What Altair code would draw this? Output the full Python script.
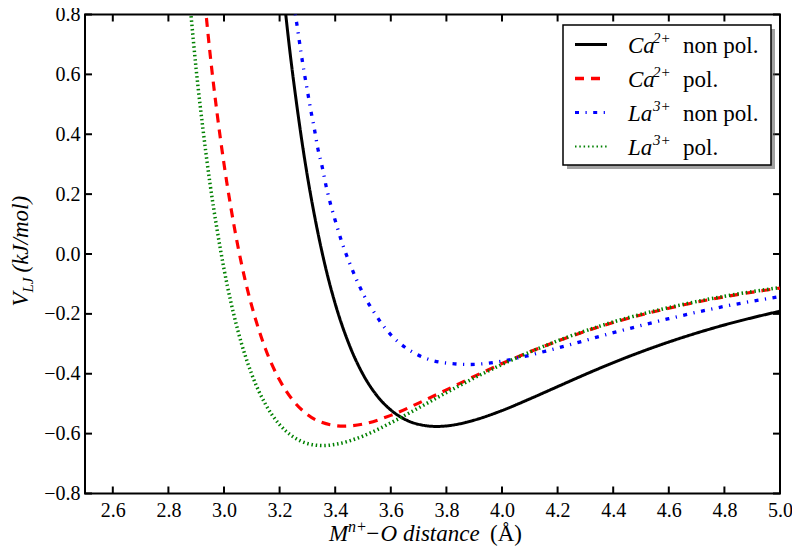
import altair as alt
import pandas as pd

# ---------------- data ----------------
series_names = ["Ca2+ non pol.", "Ca2+ pol.", "La3+ non pol.", "La3+ pol."]
legend_ion = ["Ca", "Ca", "La", "La"]
legend_charge = ["2+", "2+", "3+", "3+"]
legend_kind = ["non pol.", "pol.", "non pol.", "pol."]

ca_np_x = [3.21, 3.22, 3.24, 3.26, 3.28, 3.30, 3.33, 3.36, 3.40, 3.45, 3.50, 3.55, 3.60,
           3.65, 3.70, 3.765, 3.85, 3.90, 4.00, 4.10, 4.20, 4.30, 4.40, 4.60, 4.80, 5.00]
ca_np_y = [0.906, 0.818, 0.654, 0.510, 0.378, 0.260, 0.107, -0.024, -0.166, -0.302, -0.402,
           -0.473, -0.521, -0.552, -0.569, -0.576, -0.567, -0.555, -0.523, -0.484, -0.443,
           -0.402, -0.363, -0.294, -0.237, -0.191]

ca_p_x = [2.92, 2.935, 2.95, 2.975, 3.00, 3.025, 3.05, 3.075, 3.10, 3.15, 3.20, 3.25, 3.30,
          3.35, 3.43, 3.50, 3.60, 3.70, 3.80, 3.90, 4.00, 4.20, 4.40, 4.60, 4.80, 5.00]
ca_p_y = [0.948, 0.805, 0.668, 0.471, 0.301, 0.154, 0.026, -0.083, -0.174, -0.319, -0.421,
          -0.491, -0.536, -0.562, -0.575, -0.568, -0.539, -0.498, -0.454, -0.409, -0.366,
          -0.291, -0.229, -0.181, -0.143, -0.114]

la_np_x = [3.25, 3.262, 3.277, 3.288, 3.300, 3.312, 3.325, 3.337, 3.353, 3.367, 3.384, 3.403,
           3.423, 3.447, 3.474, 3.504, 3.540, 3.579, 3.627, 3.683, 3.747, 3.819, 3.885, 3.95,
           4.00, 4.20, 4.40, 4.60, 4.80, 5.00]
la_np_y = [0.835, 0.768, 0.673, 0.609, 0.545, 0.481, 0.418, 0.355, 0.292, 0.228, 0.164, 0.103,
           0.042, -0.019, -0.080, -0.139, -0.195, -0.247, -0.294, -0.330, -0.355, -0.366,
           -0.369, -0.365, -0.358, -0.314, -0.263, -0.216, -0.175, -0.142]

la_p_x = [2.87, 2.88, 2.90, 2.925, 2.95, 2.975, 3.00, 3.05, 3.10, 3.15, 3.20, 3.25, 3.30,
          3.356, 3.40, 3.50, 3.60, 3.70, 3.80, 3.90, 4.00, 4.20, 4.40, 4.60, 4.80, 5.00]
la_p_y = [0.909, 0.81, 0.616, 0.412, 0.233, 0.082, -0.050, -0.256, -0.402, -0.503, -0.570,
          -0.611, -0.633, -0.640, -0.636, -0.608, -0.564, -0.514, -0.463, -0.414, -0.369,
          -0.290, -0.227, -0.179, -0.141, -0.112]

x_ticks = [2.6, 2.8, 3.0, 3.2, 3.4, 3.6, 3.8, 4.0, 4.2, 4.4, 4.6, 4.8, 5.0]
y_ticks = [-0.8, -0.6, -0.4, -0.2, 0.0, 0.2, 0.4, 0.6, 0.8]

# ---------------- styles ----------------
colors = ["#000000", "#ff0000", "#0000ff", "#008000"]
dashes = [[1, 0], [9, 7], [4, 6.5, 1.2, 6.5], [1.5, 2.8]]
widths = [3, 3.5, 3, 2.2]
FONT = "Liberation Serif"
W, H = 695, 479

rows = []
for name, xs, ys in zip(series_names, [ca_np_x, ca_p_x, la_np_x, la_p_x],
                        [ca_np_y, ca_p_y, la_np_y, la_p_y]):
    for a, b in zip(xs, ys):
        rows.append({"series": name, "x": a, "y": b})
df = pd.DataFrame(rows)

xscale = alt.Scale(domain=[2.5, 5.0], nice=False, zero=False)
yscale = alt.Scale(domain=[-0.8, 0.8], nice=False, zero=False)
xaxis = alt.Axis(values=x_ticks, format=".1f", title=None, domain=False, grid=False,
                 ticks=False, tickSize=0, labelFont=FONT, labelFontSize=20,
                 labelColor="black", labelPadding=7, labelFlush=False, labelOverlap=False)
yaxis = alt.Axis(values=y_ticks, format=".1f", title=None, domain=False, grid=False,
                 ticks=False, tickSize=0, labelFont=FONT, labelFontSize=20,
                 labelColor="black", labelPadding=5, labelOverlap=False)
X = alt.X("x:Q", scale=xscale, axis=xaxis)
Y = alt.Y("y:Q", scale=yscale, axis=yaxis)

lines = alt.Chart(df).mark_line(clip=True, interpolate="monotone", strokeCap="butt").encode(
    x=X, y=Y,
    color=alt.Color("series:N", scale=alt.Scale(domain=series_names, range=colors), legend=None),
    strokeDash=alt.StrokeDash("series:N", scale=alt.Scale(domain=series_names, range=dashes), legend=None),
    strokeWidth=alt.StrokeWidth("series:N", scale=alt.Scale(domain=series_names, range=widths), legend=None),
)

xt = pd.DataFrame({"x": x_ticks})
yt = pd.DataFrame({"y": y_ticks})
TL = 7
tick_b = alt.Chart(xt).mark_rule(color="black", strokeWidth=2).encode(x=X, y=alt.value(H), y2=alt.value(H - TL))
tick_t = alt.Chart(xt).mark_rule(color="black", strokeWidth=2).encode(x=X, y=alt.value(0), y2=alt.value(TL))
tick_l = alt.Chart(yt).mark_rule(color="black", strokeWidth=2).encode(y=Y, x=alt.value(0), x2=alt.value(TL))
tick_r = alt.Chart(yt).mark_rule(color="black", strokeWidth=2).encode(y=Y, x=alt.value(W - TL), x2=alt.value(W))


def txt(s, x, y, size, style="normal", angle=0, align="left", baseline="alphabetic"):
    return alt.Chart(pd.DataFrame({"t": [s]})).mark_text(
        font=FONT, fontSize=size, fontStyle=style, angle=angle, align=align,
        baseline=baseline, color="black").encode(text="t:N", x=alt.value(x), y=alt.value(y))


layers = [lines, tick_b, tick_t, tick_l, tick_r]

# legend box with shadow
one = pd.DataFrame({"a": [0]})
layers.append(alt.Chart(one).mark_rect(fill="#555555", opacity=0.55).encode(
    x=alt.value(482), x2=alt.value(690), y=alt.value(14.5), y2=alt.value(154.5)))
layers.append(alt.Chart(one).mark_rect(fill="white", stroke="black", strokeWidth=1.5).encode(
    x=alt.value(478), x2=alt.value(686), y=alt.value(10.5), y2=alt.value(150.5)))

row_y = [30, 64, 98, 132]
for i in range(4):
    layers.append(alt.Chart(one).mark_rule(color=colors[i], strokeDash=dashes[i],
                                           strokeWidth=widths[i], strokeCap="butt").encode(
        x=alt.value(490), x2=alt.value(522), y=alt.value(row_y[i])))
    layers.append(txt(legend_ion[i], 543, row_y[i] + 8, 23, style="italic"))
    layers.append(txt(legend_charge[i], 568, row_y[i] - 2, 15, style="italic"))
    layers.append(txt(legend_kind[i], 598, row_y[i] + 8, 23))

# x-axis title: M^{n+} -O distance (Å)
TB = 526
layers.append(txt("M", 244, TB, 23, style="italic"))
layers.append(txt("n+", 263, TB - 9, 16, style="italic"))
layers.append(txt("\u2212O", 280, TB, 23, style="italic"))
layers.append(txt("distance", 318, TB, 23, style="italic"))
layers.append(txt("(\u00c5)", 405, TB, 23))

# y-axis title: V_{LJ} (kJ/mol), rotated
layers.append(txt("V", -57, 292, 23, style="italic", angle=270))
layers.append(txt("LJ", -52, 278, 15, style="italic", angle=270))
layers.append(txt("(kJ/mol)", -57, 258, 23, style="italic", angle=270))

chart = alt.layer(*layers).properties(
    width=W, height=H, autosize="none",
    padding={"left": 77, "top": 6.5, "right": 12, "bottom": 52.5},
    background="white",
).configure_view(stroke="black", strokeWidth=2)

chart.save("out.html", embed_options={"renderer": "svg", "actions": False})
